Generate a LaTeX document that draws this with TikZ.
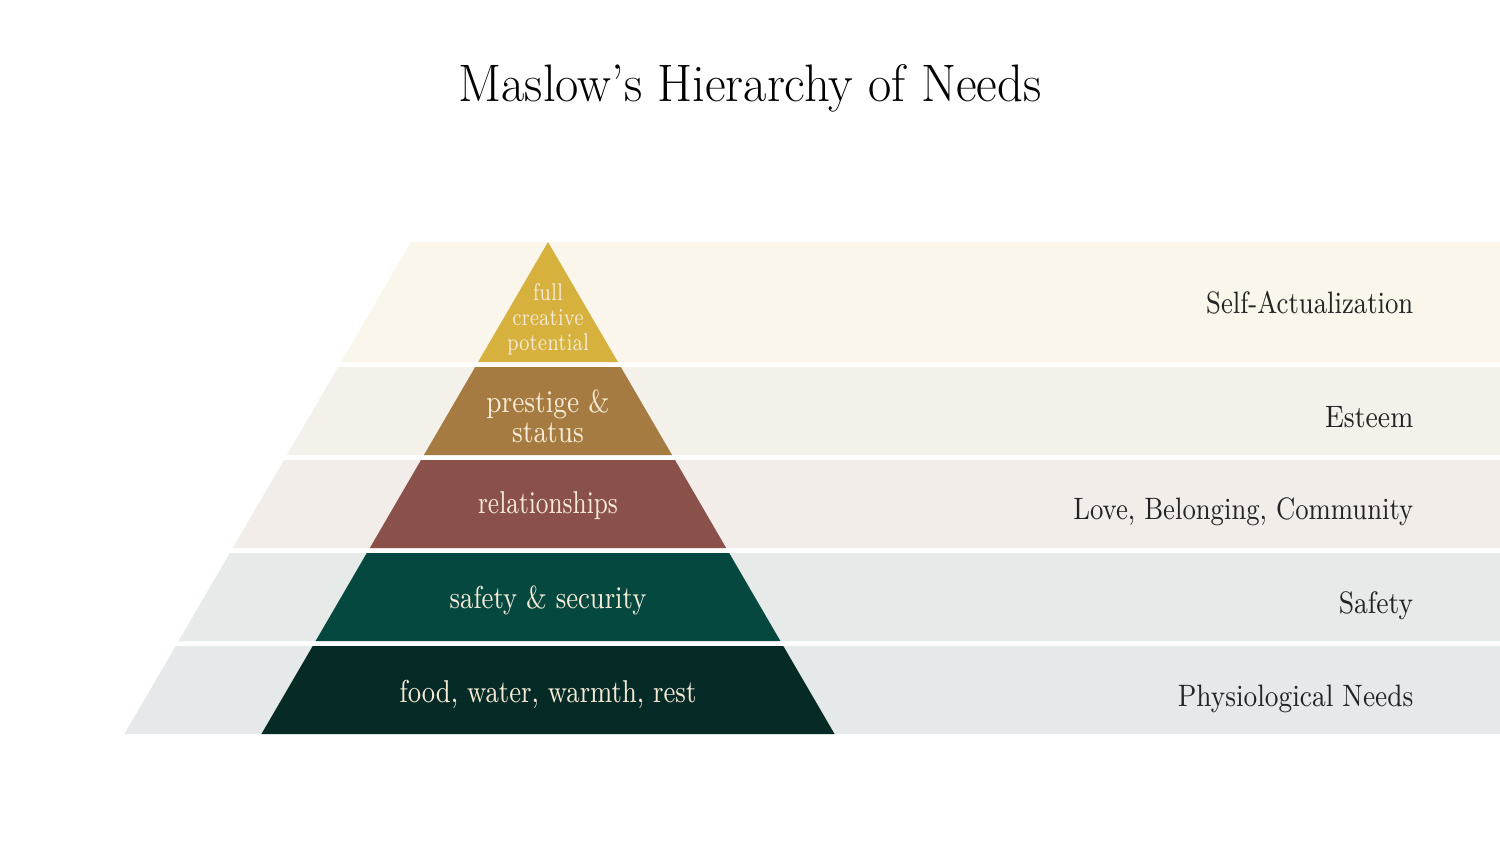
\documentclass[tikz,border=0pt]{standalone}
\usepackage{graphicx}
\definecolor{bandA}{HTML}{FAF6EB}
\definecolor{bandB}{HTML}{F4F1EB}
\definecolor{bandC}{HTML}{F3EDEA}
\definecolor{bandD}{HTML}{E6EBEA}
\definecolor{bandE}{HTML}{E5E9E9}
\definecolor{lvlA}{HTML}{D6B13E}
\definecolor{lvlB}{HTML}{A67B41}
\definecolor{lvlC}{HTML}{8A504A}
\definecolor{lvlD}{HTML}{05483F}
\definecolor{lvlE}{HTML}{062B26}
\definecolor{creamtxt}{HTML}{F6EBD6}
\definecolor{darktxt}{HTML}{242424}
\newcommand{\nar}[2][0.85]{\scalebox{#1}[1]{#2}}
\begin{document}
\begin{tikzpicture}[x=0.01cm,y=-0.01cm,
  lvltext/.style={text=creamtxt, inner sep=0pt, anchor=base, align=center, font=\fontsize{9}{8.3}\selectfont},
  sidetext/.style={text=darktxt, inner sep=0pt, anchor=base east, font=\fontsize{8.8}{10}\selectfont},
  titletext/.style={text=black, inner sep=0pt, anchor=base, font=\fontsize{15}{18}\selectfont}]
\useasboundingbox (0,0) rectangle (1500,844);
\fill[white] (0,0) rectangle (1500,844);
% background bands
\fill[bandA] (411,242) -- (1500,242) -- (1500,362) -- (341.1,362) -- cycle;
\fill[bandB] (338.2,367) -- (1500,367) -- (1500,455) -- (286.9,455) -- cycle;
\fill[bandC] (284.0,460) -- (1500,460) -- (1500,548) -- (232.8,548) -- cycle;
\fill[bandD] (229.8,553) -- (1500,553) -- (1500,641) -- (178.6,641) -- cycle;
\fill[bandE] (175.7,646) -- (1500,646) -- (1500,734) -- (124.4,734) -- cycle;
% pyramid levels
\fill[lvlA] (548,242) -- (617.9,362) -- (478.1,362) -- cycle;
\fill[lvlB] (475.2,367) -- (620.8,367) -- (672.1,455) -- (423.9,455) -- cycle;
\fill[lvlC] (421.0,460) -- (675.0,460) -- (726.2,548) -- (369.8,548) -- cycle;
\fill[lvlD] (366.8,553) -- (729.2,553) -- (780.4,641) -- (315.6,641) -- cycle;
\fill[lvlE] (312.7,646) -- (783.3,646) -- (834.6,734) -- (261.4,734) -- cycle;
% title
\node[titletext] (title) at (750,101) {\nar[0.96]{Maslow's Hierarchy of Needs}};
% pyramid texts
\node[lvltext, font=\fontsize{6.9}{6.97}\selectfont] (tA) at (548,350) {\nar[0.76]{full}\\\nar[0.76]{creative}\\\nar[0.76]{potential}};
\node[lvltext] (tB) at (548,442) {\nar[0.84]{prestige \&}\\\nar[0.84]{status}};
\node[lvltext] (tC) at (548,513) {\nar[0.78]{relationships}};
\node[lvltext] (tD) at (548,608) {\nar[0.82]{safety \& security}};
\node[lvltext] (tE) at (548,702) {\nar[0.82]{food, water, warmth, rest}};
% side labels
\node[sidetext] (sA) at (1414,313) {\nar[0.84]{Self-Actualization}};
\node[sidetext] (sB) at (1414,427) {\nar[0.87]{Esteem}};
\node[sidetext] (sC) at (1414,519) {\nar[0.84]{Love, Belonging, Community}};
\node[sidetext] (sD) at (1414,613) {\nar[0.87]{Safety}};
\node[sidetext] (sE) at (1414,706) {\nar[0.86]{Physiological Needs}};
\end{tikzpicture}
\end{document}
